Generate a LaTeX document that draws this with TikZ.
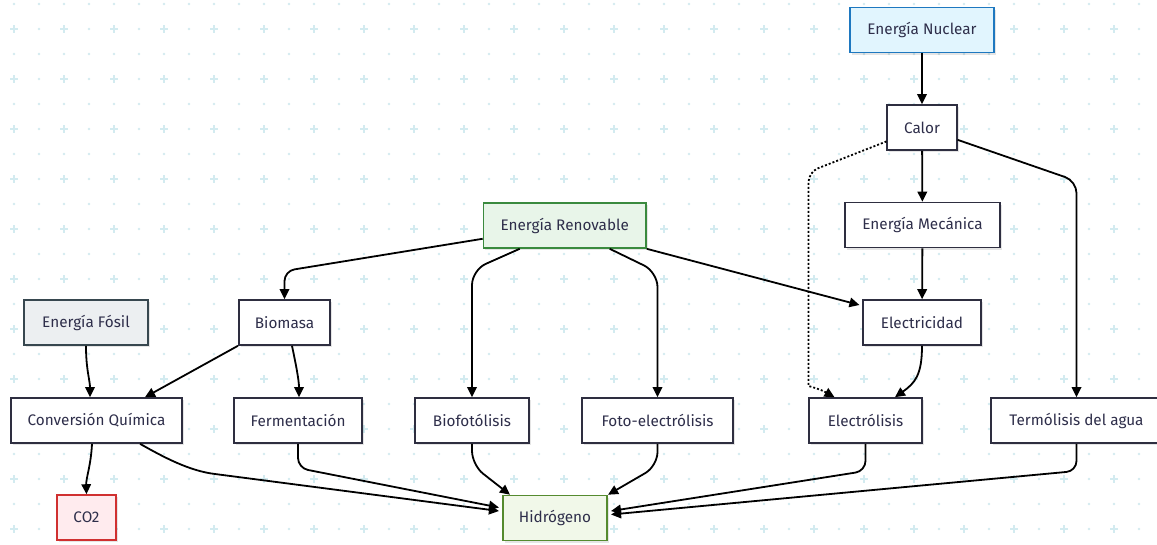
\documentclass[tikz,border=0pt]{standalone}
\usepackage{fontspec}
\setmainfont{Fira Sans}
\usetikzlibrary{arrows.meta,calc,shadows}
\definecolor{gridc}{HTML}{D3EBF0}
\definecolor{nodeb}{HTML}{2E2E40}
\definecolor{textc}{HTML}{2E2E4A}
\definecolor{nucf}{HTML}{E1F5FE}
\definecolor{nucb}{HTML}{1E78C0}
\definecolor{renf}{HTML}{E8F5E9}
\definecolor{renb}{HTML}{3A8A3E}
\definecolor{fosf}{HTML}{ECEFF1}
\definecolor{fosb}{HTML}{37474F}
\definecolor{cof}{HTML}{FFEBEE}
\definecolor{cob}{HTML}{D03030}
\definecolor{hydf}{HTML}{F1F8E9}
\definecolor{hydb}{HTML}{558B2F}
\begin{document}
\begin{tikzpicture}[x=1pt,y=-1pt,
  box/.style={draw=nodeb, fill=white, line width=1.6pt, minimum height=45pt,
    inner sep=0pt, text=textc, font=\fontsize{15.3}{17}\selectfont,
    drop shadow={shadow xshift=2pt, shadow yshift=-2pt, opacity=0.10, fill=black}},
  arr/.style={draw=black, line width=1.8pt, -{Triangle[length=10pt,width=9.5pt]}},
  dotline/.style={dash pattern=on 2pt off 2pt}
]
\clip (0,0) rectangle (1157,544);
\fill[white] (0,0) rectangle (1157,544);
% background grid
\foreach \i in {0,...,46}{\foreach \j in {0,...,21}{
  \fill[gridc] (14+25*\i,4+25*\j) circle[radius=1.3];}}
\foreach \i in {0,...,23}{\foreach \j in {0,...,10}{
  \draw[gridc,line width=1.6pt] (10+50*\i,29+50*\j) -- ++(8,0) (14+50*\i,25+50*\j) -- ++(0,8);}}

% nodes
\node[box, fill=nucf, draw=nucb, minimum width=144.5pt] (nuc) at (922,30) {Energía Nuclear};
\node[box, minimum width=69.5pt] (calor) at (922,127.5) {Calor};
\node[box, minimum width=155.5pt] (mec) at (922.5,225) {Energía Mecánica};
\node[box, minimum width=117.5pt] (elec) at (922,322.5) {Electricidad};
\node[box, fill=renf, draw=renb, minimum width=162.5pt] (ren) at (564.7,225.5) {Energía Renovable};
\node[box, minimum width=91.5pt] (bio) at (284.5,322.5) {Biomasa};
\node[box, fill=fosf, draw=fosb, minimum width=124.5pt] (fos) at (86,322.5) {Energía Fósil};
\node[box, minimum width=171.5pt] (conv) at (96.5,420.5) {Conversión Química};
\node[box, minimum width=128.5pt] (ferm) at (298,420.5) {Fermentación};
\node[box, minimum width=114.5pt] (biof) at (472,420.5) {Biofotólisis};
\node[box, minimum width=151.5pt] (foto) at (657.5,420.5) {Foto-electrólisis};
\node[box, minimum width=113.5pt] (electrol) at (865.5,420.5) {Electrólisis};
\node[box, minimum width=171.5pt] (term) at (1076.5,420.5) {Termólisis del agua};
\node[box, fill=cof, draw=cob, minimum width=59.5pt] (co2) at (86.5,517.5) {CO2};
\node[box, fill=hydf, draw=hydb, minimum width=104.5pt] (hyd) at (555,518) {Hidrógeno};

% connectors
\draw[arr] (nuc) -- (calor);
\draw[arr] (calor) -- (mec);
\draw[arr] (mec) -- (elec);
\draw[arr, rounded corners=12pt] (calor) -- (1076.5,181) -- (term);
\draw[arr, dotline, rounded corners=10pt] (calor) -- (808.5,172) -- (808.5,376)
  .. controls (808.5,386) and (820,389) .. ($(electrol.north)+(-31,0)$);
\draw[arr, rounded corners=10pt] (ren) -- (284.5,271) -- (bio);
\draw[arr, rounded corners=15pt] ($(ren.south)+(-45,0)$) -- (472,270) -- (biof);
\draw[arr, rounded corners=15pt] ($(ren.south)+(45,0)$) -- (657.5,272) -- (foto);
\draw[arr] (ren.south east) -- ($(elec.west)+(-3,-17.5)$);
\draw[arr] (bio.south west) -- ($(conv.north)+(48.5,0)$);
\draw[arr] ($(bio.south)+(7.5,0)$) .. controls (296,365) and (299,380) .. ($(ferm.north)+(1,0)$);
\draw[arr] (fos.south) .. controls (86,370) and (90,380) .. ($(conv.north)+(-6.5,0)$);
\draw[arr] ($(conv.south)+(-4.5,0)$) .. controls (91,465) and (86,478) .. (co2.north);
\draw[arr] ($(conv.south)+(43.5,0)$) .. controls (165,458) and (190,471) .. (215,474)
  -- ($(hyd.west)+(-3,-7)$);
\draw[arr, rounded corners=10pt] (ferm.south) -- (298,468) -- ($(hyd.west)+(-3,-10.5)$);
\draw[arr, rounded corners=14pt] (biof.south) -- (472,465) -- ($(hyd.north west)+(8,0)$);
\draw[arr, rounded corners=14pt] (foto.south) -- (657.5,466) -- (hyd.north east);
\draw[arr, rounded corners=10pt] (electrol.south) -- (865.5,471) -- ($(hyd.east)+(3,-7)$);
\draw[arr, rounded corners=10pt] (term.south) -- (1076.5,471) -- ($(hyd.east)+(3,-3.5)$);
\draw[arr] (elec.south) .. controls (922,375) and (915,383) .. ($(electrol.north)+(29.5,0)$);
\end{tikzpicture}
\end{document}
